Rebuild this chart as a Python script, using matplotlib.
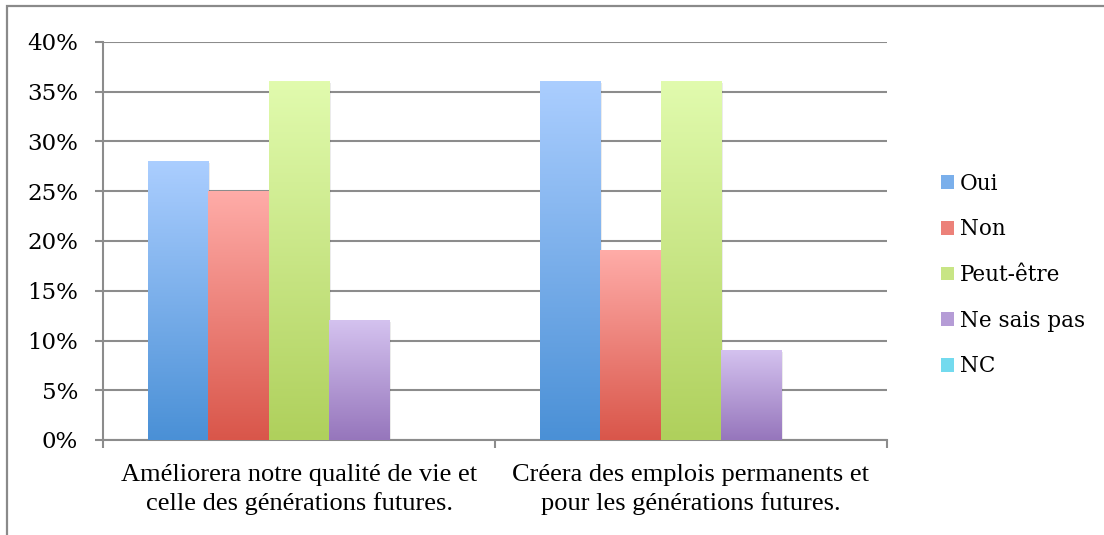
import matplotlib
matplotlib.use("Agg")
import matplotlib.pyplot as plt
import numpy as np
from matplotlib.patches import Rectangle, Patch
from matplotlib.colors import to_rgb
from matplotlib.ticker import FuncFormatter

categories = ["Améliorera notre qualité de vie et\ncelle des générations futures.",
              "Créera des emplois permanents et\npour les générations futures."]
series = ["Oui", "Non", "Peut-être", "Ne sais pas", "NC"]
oui = [28, 36]
non = [25, 19]
peut_etre = [36, 36]
ne_sais_pas = [12, 9]
nc = [0, 0]
values = [oui, non, peut_etre, ne_sais_pas, nc]

# (top colour, bottom colour) of each gradient fill
gradients = [("#ABCEFF", "#4A90D6"),
             ("#FFACA8", "#D9564A"),
             ("#E1FBAE", "#AFD05C"),
             ("#D4C2EF", "#9676BC"),
             ("#9EEFFA", "#48C4E2")]

fig = plt.figure(figsize=(11.04, 5.35), dpi=100)
fig.patch.set_facecolor("white")
ax = fig.add_axes([103 / 1104, 95 / 535, 784 / 1104, 398 / 535])

# outer chart frame
fig.patches.append(Rectangle((7 / 1104, -0.05), 1.2, (535 - 6) / 535 + 0.05,
                             transform=fig.transFigure, fill=False,
                             edgecolor="#8a8a8a", linewidth=1.6, zorder=0))

n = len(series)
width = 0.154
x = np.arange(len(categories))
offsets = (np.arange(n) - (n - 1) / 2) * width


def gradient_image(top, bottom, steps=256):
    t = np.linspace(0, 1, steps)[:, None]
    b = np.array(to_rgb(bottom))
    tp = np.array(to_rgb(top))
    img = b[None, :] * (1 - t) + tp[None, :] * t
    return img[:, None, :]


for i in range(n):
    top, bottom = gradients[i]
    bars = ax.bar(x + offsets[i], values[i], width, color="none",
                  edgecolor="none", zorder=3)
    for b in bars:
        h = b.get_height()
        if h <= 0:
            continue
        x0 = b.get_x()
        # soft drop shadow
        ax.add_patch(Rectangle((x0 + 0.004, 0), b.get_width(), h - 0.15,
                               facecolor="#000000", alpha=0.08,
                               edgecolor="none", zorder=2))
        ax.imshow(gradient_image(top, bottom), extent=[x0, x0 + b.get_width(), 0, h],
                  origin="lower", aspect="auto", zorder=3, interpolation="bilinear")

ax.set_xlim(-0.5, len(categories) - 0.5)
ax.set_ylim(0, 40)
ax.set_yticks(np.arange(0, 41, 5))
ax.yaxis.set_major_formatter(FuncFormatter(lambda v, p: f"{int(v)}%"))
ax.grid(axis="y", color="#8c8c8c", linewidth=1.5, zorder=1)
ax.set_axisbelow(True)

ax.set_xticks([-0.5, 0.5, 1.5])
ax.set_xticklabels([])
ax.set_xticks(x, minor=True)
ax.set_xticklabels(categories, minor=True, fontsize=19,
                   family="Liberation Serif", linespacing=1.38)
ax.tick_params(axis="x", which="minor", length=0, pad=17)
ax.tick_params(axis="x", which="major", length=6, width=1.5, color="#8c8c8c")
ax.tick_params(axis="y", length=6, width=1.5, color="#8c8c8c", pad=12,
               labelsize=16.5)
for lbl in ax.get_yticklabels():
    lbl.set_family("DejaVu Serif")

for s in ["top", "right"]:
    ax.spines[s].set_visible(False)
for s in ["left", "bottom"]:
    ax.spines[s].set_color("#8c8c8c")
    ax.spines[s].set_linewidth(1.5)

handles = [Patch(facecolor=tuple((np.array(to_rgb(t)) + np.array(to_rgb(b))) / 2),
                 edgecolor="none") for t, b in gradients]
leg = fig.legend(handles, series, loc="center left",
                 bbox_to_anchor=(922 / 1104, 1 - 275 / 535),
                 frameon=False, handlelength=0.6, handleheight=0.6,
                 handletextpad=0.25, labelspacing=1.1,
                 prop={"family": "DejaVu Serif", "size": 15.5})

fig.savefig("out.png", dpi=100, facecolor="white")
